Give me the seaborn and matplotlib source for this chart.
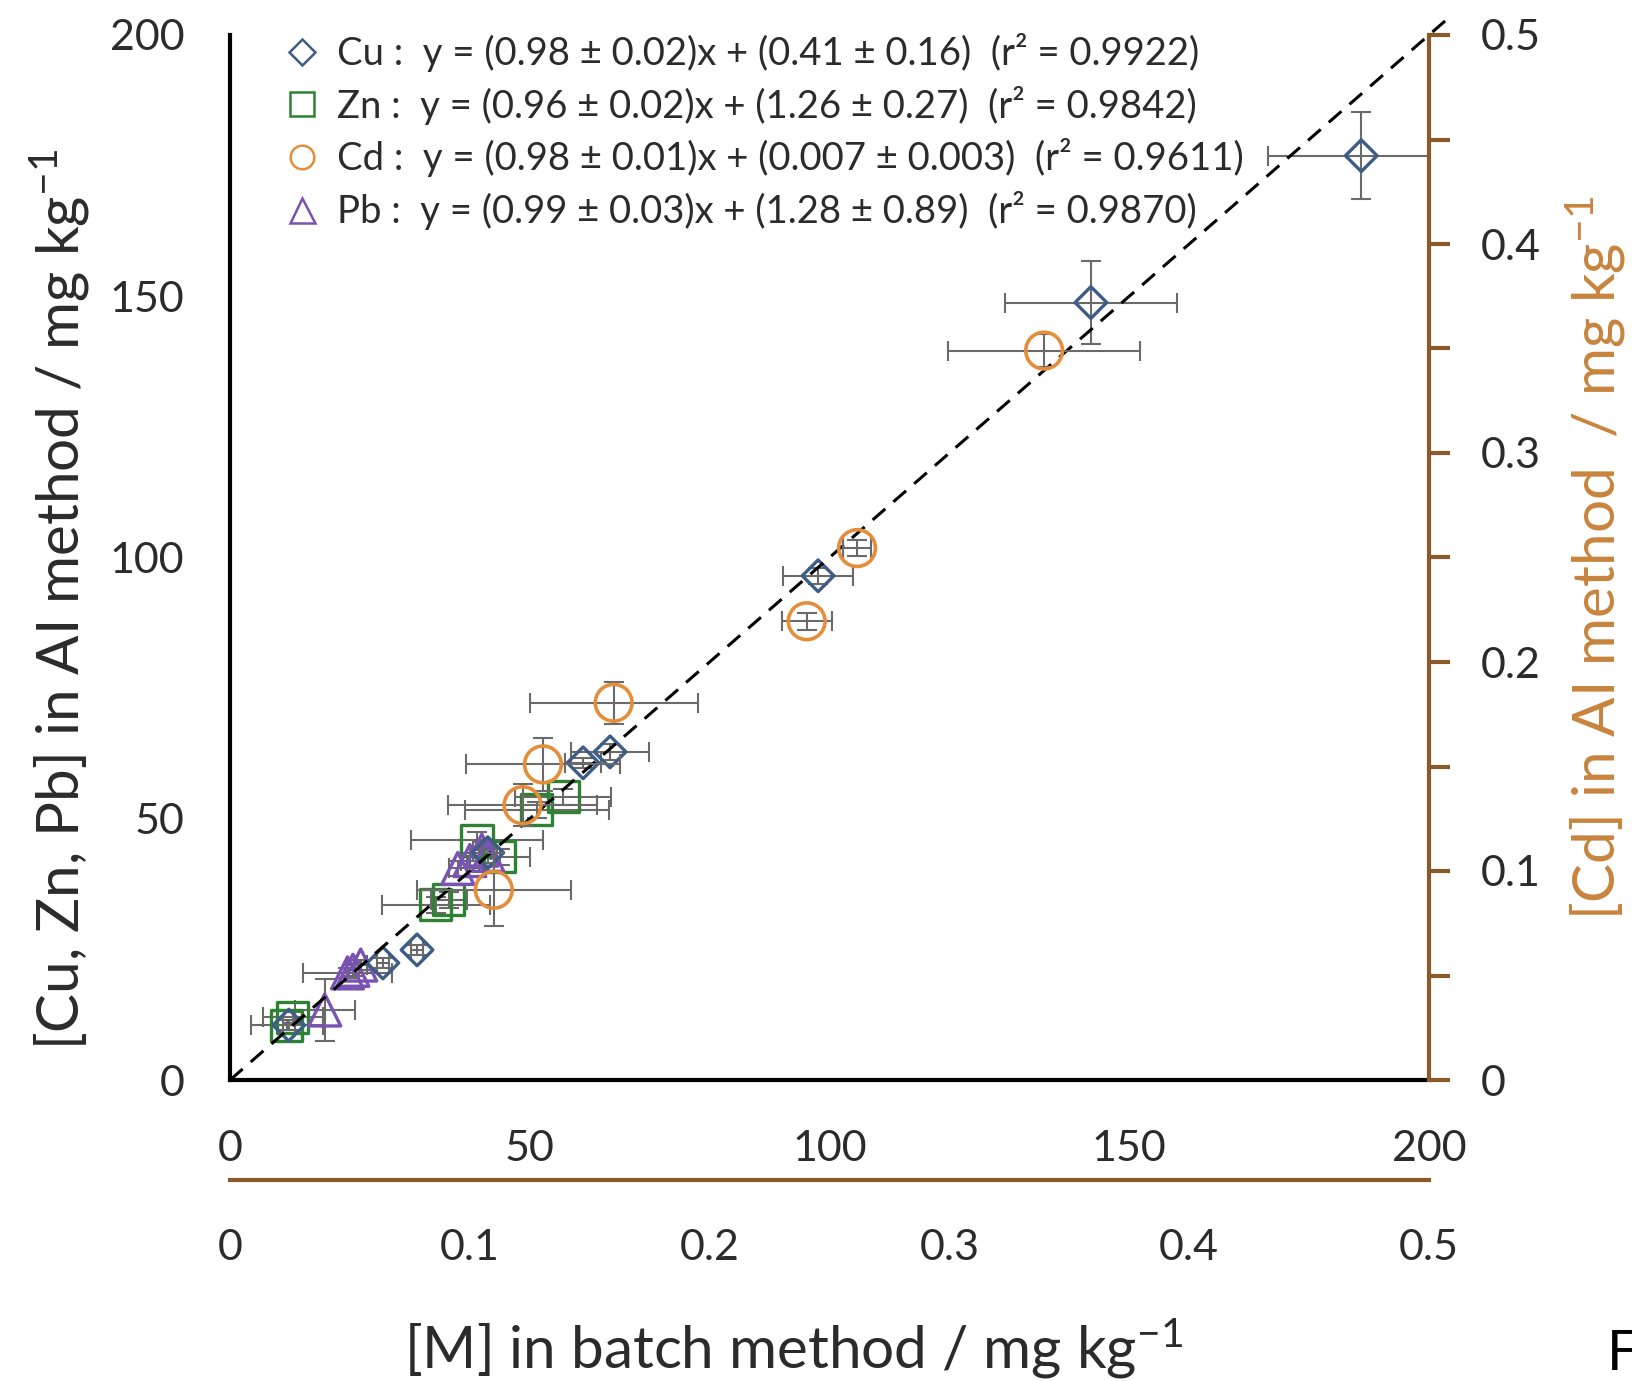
import matplotlib
matplotlib.use("Agg")
import matplotlib.pyplot as plt
import seaborn as sns
from matplotlib.lines import Line2D
from matplotlib.ticker import MultipleLocator, FuncFormatter

sns.set_style("white")
plt.rcParams['font.family'] = ['Lato', 'DejaVu Sans']
plt.rcParams['mathtext.fontset'] = 'custom'
plt.rcParams['mathtext.rm'] = 'Lato'
plt.rcParams['mathtext.it'] = 'Lato:italic'
plt.rcParams['mathtext.bf'] = 'Lato:bold'

# ---- data (mg/kg) ----
cu_x = [188.7, 143.6, 98.1, 58.9, 63.4, 31.2, 25.5, 9.8, 43.0]
cu_y = [176.9, 148.8, 96.5, 60.7, 62.8, 24.9, 22.4, 10.5, 43.5]
cu_xerr = [15.6, 14.3, 5.8, 3.0, 6.5, 1.0, 1.0, 1.0, 1.0]
cu_yerr = [8.3, 8.0, 1.5, 1.0, 1.5, 1.0, 1.0, 1.0, 1.0]

zn_x = [9.5, 10.5, 34.3, 36.5, 41.2, 45.0, 51.2, 55.6]
zn_y = [10.5, 12.0, 33.5, 34.5, 45.9, 42.7, 51.7, 54.2]
zn_xerr = [6.0, 5.0, 9.0, 3.0, 11.0, 5.0, 12.0, 8.0]
zn_yerr = [1.0, 1.0, 1.5, 1.5, 1.5, 1.5, 1.5, 1.5]

pb_x = [15.8, 19.6, 20.5, 21.8, 38.0, 40.0, 42.0, 43.0]
pb_y = [13.4, 20.5, 21.0, 22.0, 40.5, 42.0, 44.0, 43.0]
pb_xerr = [5.0, 7.4, 1.0, 1.0, 1.5, 1.5, 1.5, 1.5]
pb_yerr = [6.0, 1.0, 1.0, 1.0, 1.5, 1.5, 1.5, 1.5]

cd_x = [0.3395, 0.2615, 0.2405, 0.160, 0.1305, 0.122, 0.110]
cd_y = [0.349, 0.2545, 0.2195, 0.1805, 0.151, 0.1315, 0.091]
cd_xerr = [0.040, 0.006, 0.0105, 0.035, 0.032, 0.031, 0.032]
cd_yerr = [0.008, 0.004, 0.004, 0.010, 0.0125, 0.010, 0.0175]

ref_line = [0, 203]

legend_labels = [
    "Cu :  y = (0.98 ± 0.02)x + (0.41 ± 0.16)  (r² = 0.9922)",
    "Zn :  y = (0.96 ± 0.02)x + (1.26 ± 0.27)  (r² = 0.9842)",
    "Cd :  y = (0.98 ± 0.01)x + (0.007 ± 0.003)  (r² = 0.9611)",
    "Pb :  y = (0.99 ± 0.03)x + (1.28 ± 0.89)  (r² = 0.9870)",
]

CU_C = "#3d5c86"
ZN_C = "#2f8233"
CD_C = "#e48d3a"
PB_C = "#7a52b3"
ERR_C = "#6a6a6a"
BROWN = "#8b5a2b"
TXT = "#2b2b2b"

fig = plt.figure(figsize=(16.33, 13.81), dpi=100)
pos = [230 / 1633, 1 - 1080 / 1381, 1199 / 1633, 1045 / 1381]
ax = fig.add_axes(pos)
ax_cd = fig.add_axes(pos)
ax_cd.patch.set_visible(False)

err_kw = dict(fmt="none", ecolor=ERR_C, elinewidth=1.5, capsize=7, capthick=1.5, zorder=2)

# main axes: Cu, Zn, Pb
ax.plot(ref_line, ref_line, color="black", lw=2.2, ls=(0, (5.5, 3.5)), clip_on=False, zorder=4)
for xs, ys, xe, ye in [(zn_x, zn_y, zn_xerr, zn_yerr), (pb_x, pb_y, pb_xerr, pb_yerr),
                       (cu_x, cu_y, cu_xerr, cu_yerr)]:
    ax.errorbar(xs, ys, xerr=xe, yerr=ye, **err_kw)
sns.scatterplot(x=zn_x, y=zn_y, ax=ax, marker="s", s=500, facecolor="none",
                edgecolor=ZN_C, linewidth=2.4, zorder=3)
sns.scatterplot(x=pb_x, y=pb_y, ax=ax, marker="^", s=530, facecolor="none",
                edgecolor=PB_C, linewidth=2.4, zorder=3)
sns.scatterplot(x=cu_x, y=cu_y, ax=ax, marker="D", s=260, facecolor="none",
                edgecolor=CU_C, linewidth=2.4, zorder=3)

ax.set_xlim(0, 200)
ax.set_ylim(0, 200)
for s in ["top", "right"]:
    ax.spines[s].set_visible(False)
for s in ["left", "bottom"]:
    ax.spines[s].set_color("black")
    ax.spines[s].set_linewidth(3)
ax.xaxis.set_major_locator(MultipleLocator(25))
ax.yaxis.set_major_locator(MultipleLocator(25))
fmt50 = FuncFormatter(lambda v, p: f"{v:.0f}" if v % 50 == 0 else "")
ax.xaxis.set_major_formatter(fmt50)
ax.yaxis.set_major_formatter(fmt50)
ax.tick_params(axis="x", direction="out", length=12, width=3, color="black",
               labelsize=31, labelcolor=TXT, pad=24)
ax.tick_params(axis="y", direction="out", length=15, width=3, color="black",
               labelsize=31, labelcolor=TXT, pad=18)
ax.set_ylabel("[Cu, Zn, Pb] in AI method / mg kg$^{-1}$", fontsize=42, color=TXT)
ax.yaxis.set_label_coords(-0.115, 0.46)
ax.set_xlabel("[M] in batch method / mg kg$^{-1}$", fontsize=42, color=TXT)
ax.xaxis.set_label_coords(0.47, -0.226)

# Cd axes (0 - 0.5)
ax_cd.errorbar(cd_x, cd_y, xerr=cd_xerr, yerr=cd_yerr, **err_kw)
sns.scatterplot(x=cd_x, y=cd_y, ax=ax_cd, marker="o", s=700, facecolor="none",
                edgecolor=CD_C, linewidth=2.6, zorder=3)
ax_cd.set_xlim(0, 0.5)
ax_cd.set_ylim(0, 0.5)
ax_cd.spines["top"].set_visible(False)
ax_cd.spines["left"].set_visible(False)
ax_cd.spines["right"].set_color(BROWN)
ax_cd.spines["right"].set_linewidth(3)
ax_cd.spines["bottom"].set_color(BROWN)
ax_cd.spines["bottom"].set_linewidth(3)
ax_cd.spines["bottom"].set_position(("outward", 72))
ax_cd.yaxis.tick_right()
ax_cd.yaxis.set_label_position("right")
ax_cd.xaxis.set_major_locator(MultipleLocator(0.1))
ax_cd.yaxis.set_major_locator(MultipleLocator(0.05))
cd_fmt = FuncFormatter(lambda v, p: ("0" if abs(v) < 1e-9 else f"{v:.1f}")
                       if abs(round(v * 10) - v * 10) < 1e-6 else "")
ax_cd.xaxis.set_major_formatter(cd_fmt)
ax_cd.yaxis.set_major_formatter(cd_fmt)
ax_cd.tick_params(axis="x", direction="out", length=15, width=3, color=BROWN,
                  labelsize=31, labelcolor=TXT, pad=20)
ax_cd.tick_params(axis="y", direction="out", length=15, width=3, color=BROWN,
                  labelsize=31, labelcolor=TXT, pad=22)
ax_cd.set_ylabel("[Cd] in AI method  / mg kg$^{-1}$", fontsize=42, color="#c8843e")
ax_cd.yaxis.set_label_coords(1.112, 0.5)

# legend
handles = [
    Line2D([], [], ls="none", marker="D", ms=13, mfc="none", mec=CU_C, mew=1.8),
    Line2D([], [], ls="none", marker="s", ms=17, mfc="none", mec=ZN_C, mew=1.8),
    Line2D([], [], ls="none", marker="o", ms=17, mfc="none", mec=CD_C, mew=1.8),
    Line2D([], [], ls="none", marker="^", ms=18, mfc="none", mec=PB_C, mew=1.8),
]
leg = ax_cd.legend(handles, legend_labels, loc="upper left", bbox_to_anchor=(0.0445, 1.002),
                   frameon=False, fontsize=27.5, handlelength=1.0, handletextpad=0.4,
                   labelspacing=0.36, borderpad=0, borderaxespad=0)
for t in leg.get_texts():
    t.set_color(TXT)

fig.text(1607 / 1633, 1 - 1370 / 1381, "F", fontsize=40, color="black",
         ha="left", va="baseline")

fig.savefig("out.png", dpi=100)
